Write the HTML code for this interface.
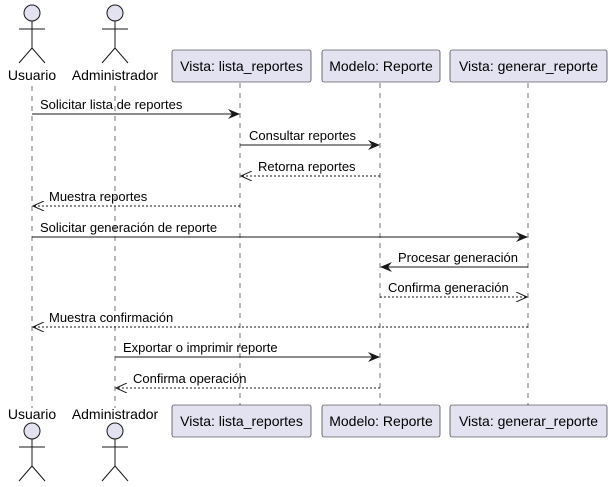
<!DOCTYPE html>
<html><head><style>body{margin:0;background:#fff}svg{display:block}text{font-family:"Liberation Sans",sans-serif;fill:#000}</style></head>
<body>
<svg width="612" height="487" viewBox="0 0 612 487">
<defs>
<g id="actor" fill="#E2E2F0" stroke="#181818" stroke-width="1">
<circle cx="0" cy="0" r="8"/>
<path d="M0 8V35M-13 16H13M0 35L-13 50M0 35L13 50" fill="none"/>
</g>
<marker id="a" viewBox="0 0 12 10" refX="11" refY="5" markerWidth="12" markerHeight="10" markerUnits="userSpaceOnUse" orient="auto"><path d="M0 0L12 5L0 10L4 5Z" fill="#181818"/></marker>
<marker id="o" viewBox="0 0 12 10" refX="11" refY="5" markerWidth="12" markerHeight="10" markerUnits="userSpaceOnUse" orient="auto"><path d="M0 0L11 5L0 10" fill="none" stroke="#181818"/></marker>
</defs>
<g stroke="#181818" stroke-width="0.6" stroke-dasharray="5,5">
<line x1="32" y1="86" x2="32" y2="408"/>
<line x1="115" y1="86" x2="115" y2="408"/>
<line x1="240" y1="83" x2="240" y2="405"/>
<line x1="380" y1="83" x2="380" y2="405"/>
<line x1="528" y1="83" x2="528" y2="405"/>
</g>
<use href="#actor" x="32" y="13"/><use href="#actor" x="115" y="13"/>
<use href="#actor" x="32" y="431"/><use href="#actor" x="115" y="431"/>
<g font-size="14" text-anchor="middle">
<text x="32" y="80">Usuario</text><text x="115" y="80">Administrador</text>
<text x="32" y="419">Usuario</text><text x="115" y="419">Administrador</text>
</g>
<g fill="#E2E2F0" stroke="#181818" stroke-width="0.6">
<rect x="172" y="50" width="139" height="32" rx="2"/>
<rect x="322" y="50" width="118" height="32" rx="2"/>
<rect x="450" y="50" width="157" height="32" rx="2"/>
<rect x="172" y="405" width="139" height="32" rx="2"/>
<rect x="322" y="405" width="118" height="32" rx="2"/>
<rect x="450" y="405" width="157" height="32" rx="2"/>
</g>
<g font-size="14" text-anchor="middle">
<text x="241.5" y="71">Vista: lista_reportes</text>
<text x="381" y="71">Modelo: Reporte</text>
<text x="528.5" y="71">Vista: generar_reporte</text>
<text x="241.5" y="426">Vista: lista_reportes</text>
<text x="381" y="426">Modelo: Reporte</text>
<text x="528.5" y="426">Vista: generar_reporte</text>
</g>
<g stroke="#181818" stroke-width="1" fill="none">
<line x1="32" y1="114" x2="239" y2="114" marker-end="url(#a)"/>
<line x1="240" y1="145" x2="379" y2="145" marker-end="url(#a)"/>
<line x1="380" y1="176" x2="241" y2="176" stroke-dasharray="2,2" marker-end="url(#o)"/>
<line x1="240" y1="206" x2="33" y2="206" stroke-dasharray="2,2" marker-end="url(#o)"/>
<line x1="32" y1="237" x2="527" y2="237" marker-end="url(#a)"/>
<line x1="528" y1="267" x2="381" y2="267" marker-end="url(#a)"/>
<line x1="380" y1="297" x2="527" y2="297" stroke-dasharray="2,2" marker-end="url(#o)"/>
<line x1="528" y1="327" x2="33" y2="327" stroke-dasharray="2,2" marker-end="url(#o)"/>
<line x1="115" y1="357" x2="379" y2="357" marker-end="url(#a)"/>
<line x1="380" y1="388" x2="116" y2="388" stroke-dasharray="2,2" marker-end="url(#o)"/>
</g>
<g font-size="13">
<text x="40" y="109">Solicitar lista de reportes</text>
<text x="249" y="140">Consultar reportes</text>
<text x="258" y="171">Retorna reportes</text>
<text x="49" y="201">Muestra reportes</text>
<text x="40" y="232">Solicitar generación de reporte</text>
<text x="398" y="262">Procesar generación</text>
<text x="388" y="292">Confirma generación</text>
<text x="49" y="322">Muestra confirmación</text>
<text x="123" y="352">Exportar o imprimir reporte</text>
<text x="133" y="383">Confirma operación</text>
</g>
</svg>
</body></html>
